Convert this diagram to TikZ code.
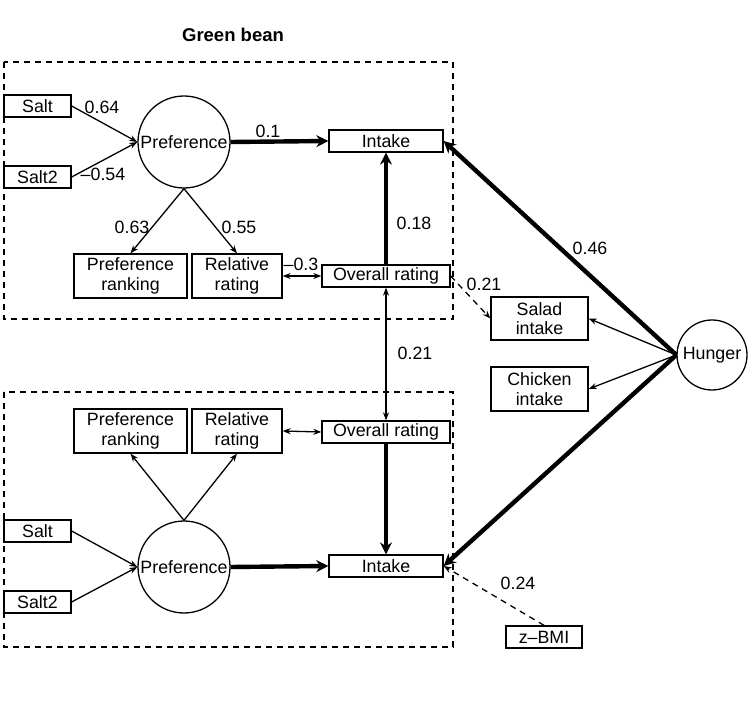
\documentclass[tikz,border=0pt]{standalone}
\usepackage{fontspec}
\setmainfont{Liberation Sans}
\usepackage{tikz}
\usetikzlibrary{arrows.meta}
\usetikzlibrary{positioning}
\tikzset{
	>={Stealth[length=8pt,width=6pt]},
	obs/.style={
		rectangle,
		draw=black, line width=1.3pt,
		inner sep=0pt,
		align=center,
		minimum height=22pt},
	lat/.style={
		circle,
		draw=black, line width=1.3pt,
		inner sep=0pt},
	path/.style={draw, line width=1.3pt, ->},
	strong/.style={draw, line width=4.4pt, -{Stealth[length=12pt,width=12pt]}},
	covar/.style={draw, line width=1.3pt, <->},
	weak/.style={draw, line width=1.3pt, dash pattern=on 6pt off 5pt, ->},
	group/.style={draw, line width=1.3pt, dash pattern=on 6pt off 5pt},
	coef/.style={inner sep=1pt},
}

\begin{document}
\begin{tikzpicture}
			[x=1pt,y=-1pt,font=\fontsize{17.8}{19.5}\selectfont]
			
			\useasboundingbox (0,0) rectangle (750,708);
			\node[font=\fontsize{18.5}{20}\selectfont\bfseries] (titel) at (233,35) {Green bean};
			
			% upper block
			\draw[group] (4,62) rectangle (453,319);
			\node[obs, minimum width=67pt] (saltA) at (37.5,106) {Salt};
			\node[obs, minimum width=67pt] (salttwoA) at (37.5,177) {Salt2};
			\node[lat, minimum size=92pt] (prefA) at (184,142) {Preference};
			\node[obs, minimum width=114pt] (intakeA) at (386,141) {Intake};
			\node[obs, minimum width=113pt, minimum height=44pt] (rankA) at (130.5,276) {Preference\\ranking};
			\node[obs, minimum width=90pt, minimum height=44pt] (relA) at (237,276) {Relative\\rating};
			\node[obs, minimum width=128pt] (overallA) at (386,276) {Overall rating};
			
			% lower block
			\draw[group] (4,392) rectangle (453,647);
			\node[obs, minimum width=113pt, minimum height=44pt] (rankB) at (130.5,431) {Preference\\ranking};
			\node[obs, minimum width=90pt, minimum height=44pt] (relB) at (237,431) {Relative\\rating};
			\node[obs, minimum width=128pt] (overallB) at (386,432) {Overall rating};
			\node[obs, minimum width=67pt] (saltB) at (37.5,531) {Salt};
			\node[obs, minimum width=67pt] (salttwoB) at (37.5,602) {Salt2};
			\node[lat, minimum size=92pt] (prefB) at (184,567) {Preference};
			\node[obs, minimum width=114pt] (intakeB) at (386,566) {Intake};
			
			% right side
			\node[obs, minimum width=97pt, minimum height=43pt] (salad) at (539.5,318.5) {Salad\\intake};
			\node[obs, minimum width=97pt, minimum height=44pt] (chicken) at (539.5,389) {Chicken\\intake};
			\node[lat, minimum size=70pt] (hunger) at (712,355) {Hunger};
			\node[obs, minimum width=76pt] (zbmi) at (544,637) {z\textendash BMI};
			
			% upper paths
			\draw[path] (saltA.east) -- (prefA.west);
			\draw[path] (salttwoA.east) -- (prefA.west);
			\draw[path] (prefA.south) -- (rankA.north);
			\draw[path] (prefA.south) -- (relA.north);
			\draw[strong] (prefA.east) -- (intakeA.west);
			\draw[strong] (overallA.north) -- (intakeA.south);
			\draw[covar] (relA.east) -- (overallA.west);
			\draw[weak] (overallA.east) -- (salad.west);
			
			% lower paths
			\draw[path] (saltB.east) -- (prefB.west);
			\draw[path] (salttwoB.east) -- (prefB.west);
			\draw[path] (prefB.north) -- (rankB.south);
			\draw[path] (prefB.north) -- (relB.south);
			\draw[strong] (prefB.east) -- (intakeB.west);
			\draw[strong] (overallB.south) -- (intakeB.north);
			\draw[covar] (relB.east) -- (overallB.west);
			\draw[weak] (zbmi.north) -- (intakeB.east);
			
			% between blocks
			\draw[covar] (overallA.south) -- (overallB.north);
			\draw[strong] (hunger.west) -- (intakeA.east);
			\draw[strong] (hunger.west) -- (intakeB.east);
			\draw[path] (hunger.west) -- (salad.east);
			\draw[path] (hunger.west) -- (chicken.east);
			
			% coefficients
			\node[coef] (kA) at (102,107) {0.64};
			\node[coef] (kB) at (103,174) {\textendash0.54};
			\node[coef] (kC) at (268,131) {0.1};
			\node[coef] (kD) at (132,227) {0.63};
			\node[coef] (kE) at (239,227) {0.55};
			\node[coef] (kF) at (414,223) {0.18};
			\node[coef] (kG) at (301,264) {\textendash0.3};
			\node[coef] (kH) at (484,284) {0.21};
			\node[coef] (kI) at (590,248) {0.46};
			\node[coef] (kJ) at (415,353) {0.21};
			\node[coef] (kK) at (518,583) {0.24};
			
\end{tikzpicture}
\end{document}
